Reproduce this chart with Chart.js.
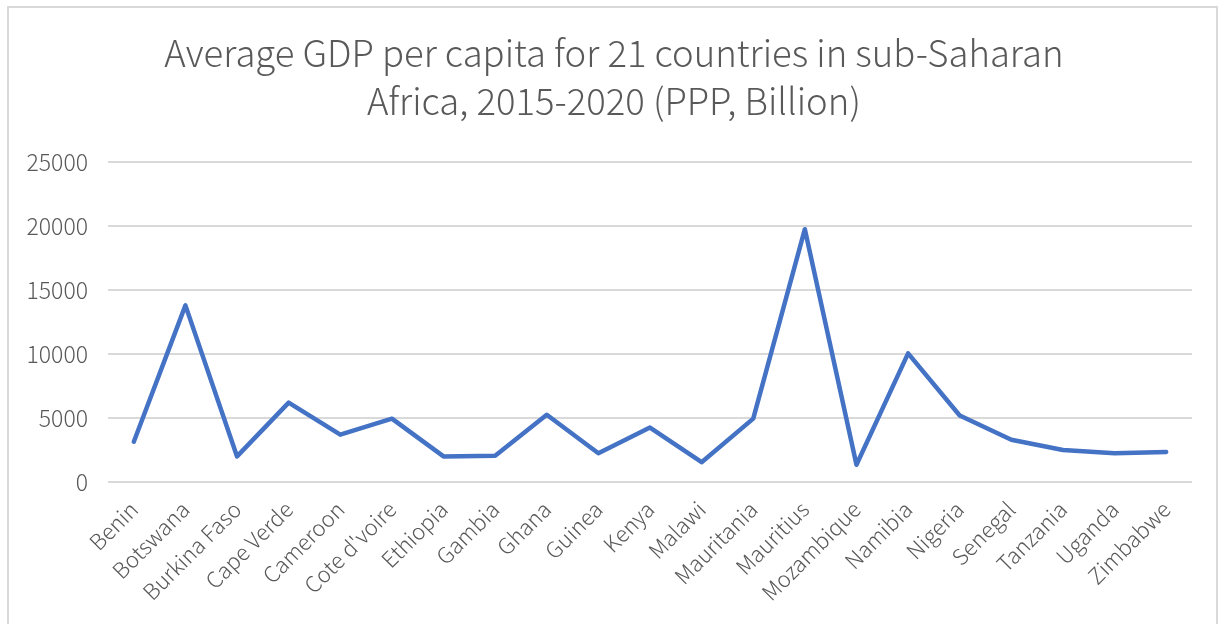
<!DOCTYPE html>
<html>
<head>
<meta charset="utf-8">
<script src="https://cdn.jsdelivr.net/npm/chart.js@4/dist/chart.umd.min.js"></script>
<style>
  html, body { margin: 0; padding: 0; background: #fff; }
  #wrap { position: relative; width: 1221px; height: 624px; overflow: hidden; }
  #frame { position: absolute; left: 7px; top: 6px; width: 1211px; height: 640px; border: 2px solid #d9d9d9; box-sizing: border-box; }
  canvas { position: absolute; left: 0; top: 0; }
</style>
</head>
<body>
<div id="wrap">
  <div id="frame"></div>
  <canvas id="gdpChart" width="1221" height="624"></canvas>
</div>
<script>
// Country list and averaged GDP per capita values
const countries = ['Benin', 'Botswana', 'Burkina Faso', 'Cape Verde', 'Cameroon', "Cote d'voire",
  'Ethiopia', 'Gambia', 'Ghana', 'Guinea', 'Kenya', 'Malawi', 'Mauritania', 'Mauritius',
  'Mozambique', 'Namibia', 'Nigeria', 'Senegal', 'Tanzania', 'Uganda', 'Zimbabwe'];
const gdpValues = [3150, 13800, 2000, 6200, 3700, 4950, 2000, 2050, 5250, 2250, 4250, 1550,
  4950, 19750, 1350, 10050, 5200, 3300, 2500, 2250, 2350];
const yTicks = [0, 5000, 10000, 15000, 20000, 25000];

const textColor = '#595959';
const fontFamily = '"Noto Sans CJK SC", "Open Sans", sans-serif';

// centre the title on the whole frame rather than the padded layout box
const titleShift = {
    id: 'titleShift',
    afterLayout: function(chart) {
        const t = chart.titleBlock;
        if (t) {
            t.left += 18;
            t.right += 18;
        }
    }
};

new Chart(document.getElementById('gdpChart'), {
    type: 'line',
    data: {
        labels: countries,
        datasets: [{
            data: gdpValues,
            borderColor: '#4472C4',
            borderWidth: 4.5,
            borderJoinStyle: 'round',
            borderCapStyle: 'round',
            pointRadius: 0,
            tension: 0,
            fill: false
        }]
    },
    options: {
        responsive: false,
        animation: false,
        layout: { padding: { left: 0, right: 29, top: 0, bottom: 0 } },
        plugins: {
            legend: { display: false },
            tooltip: { enabled: false },
            title: {
                display: true,
                text: ['Average GDP per capita for 21 countries in sub-Saharan', 'Africa, 2015-2020 (PPP, Billion)'],
                color: textColor,
                font: { family: fontFamily, size: 36.5, weight: '300', lineHeight: 1.315 },
                padding: { top: 29, bottom: 37 }
            }
        },
        scales: {
            x: {
                offset: true,
                grid: { display: false },
                border: { display: false },
                ticks: {
                    color: textColor,
                    font: { family: fontFamily, size: 22, weight: '300' },
                    minRotation: 45,
                    maxRotation: 45,
                    autoSkip: false,
                    padding: 6
                },
                afterFit: function(scale) { scale.height = 142; }
            },
            y: {
                min: 0,
                max: 25000,
                afterBuildTicks: function(scale) {
                    scale.ticks = yTicks.map(function(v) { return { value: v }; });
                },
                grid: { color: '#d9d9d9', lineWidth: 2, drawTicks: false },
                border: { display: false },
                ticks: {
                    color: textColor,
                    font: { family: fontFamily, size: 23, weight: '300' },
                    padding: 20,
                    callback: function(v) { return String(v); }
                },
                afterFit: function(scale) { scale.width = 108; }
            }
        }
    },
    plugins: [titleShift]
});
</script>
</body>
</html>
